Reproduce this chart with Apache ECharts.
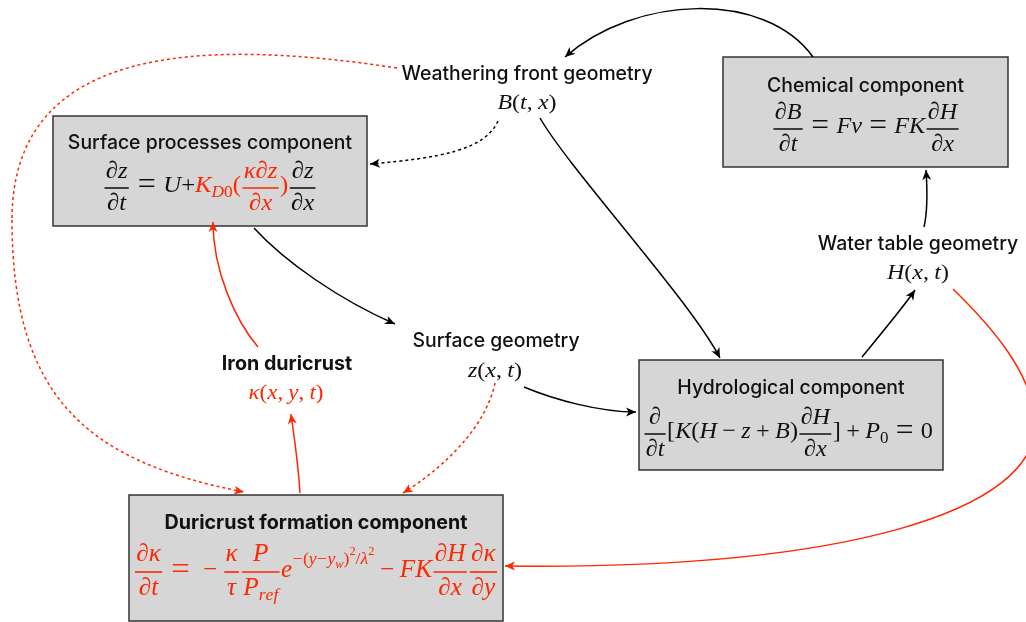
<!DOCTYPE html>
<html>
<head>
<meta charset="utf-8">
<script src="https://cdn.jsdelivr.net/npm/echarts@6/dist/echarts.min.js"></script>
<style>
  html, body { margin: 0; background: #fff; }
  #main { width: 1026px; height: 622px; }
</style>
</head>
<body>
<div id="main"></div>
<script>
var RED = '#ff2600';

// model components (grey boxes)
var boxIds = ['chem', 'surf', 'hydro', 'duri'];
var boxTitles = ['Chemical component', 'Surface processes component', 'Hydrological component', 'Duricrust formation component'];
var boxBold = [false, false, false, true];
var boxEquations = [
  [{ frac: ['∂B', '∂t'] }, ' = Fv = FK', { frac: ['∂H', '∂x'] }],
  [{ frac: ['∂z', '∂t'] }, ' = U', { s: '+' }, { red: ['K', { sub: ['D0'] }, '(', { frac: ['κ∂z', '∂x'] }, ')'] }, { frac: ['∂z', '∂x'] }],
  [{ frac: ['∂', '∂t'] }, '[K(H − z + B)', { frac: ['∂H', '∂x'] }, '] + P', { sub: ['0'] }, ' = 0'],
  [{ red: [{ frac: ['∂κ', '∂t'] }, ' = −', { frac: ['κ', 'τ'] }, { frac: ['P', ['P', { sub: ['ref'] }]] },
           'e', { sup: ['−(y−y', { sub: ['w'] }, ')', { sup: ['2'] }, '/λ', { sup: ['2'] }] },
           ' − FK', { frac: ['∂H', '∂x'] }, { frac: ['∂κ', '∂y'] }] }]
];

// state variables (free labels)
var varIds = ['weather', 'surfgeo', 'iron', 'water'];
var varTitles = ['Weathering front geometry', 'Surface geometry', 'Iron duricrust', 'Water table geometry'];
var varFormulas = ['B(t, x)', 'z(x, t)', 'κ(x, y, t)', 'H(x, t)'];
var varRed = [false, false, true, false];
var varBold = [false, false, true, false];

// arrows between them
var linkSource = ['chem', 'weather', 'weather', 'surf', 'surfgeo', 'hydro', 'water', 'water', 'iron', 'duri', 'surfgeo', 'weather'];
var linkTarget = ['weather', 'surf', 'hydro', 'surfgeo', 'hydro', 'water', 'chem', 'duri', 'surf', 'iron', 'duri', 'duri'];
var linkRed = [false, false, false, false, false, false, false, true, true, true, true, true];
var linkDotted = [false, true, false, false, false, false, false, false, false, false, true, true];

// ---- layout (pixel space of a 1026 x 622 grid) ----
var boxRect = { chem: [723, 57, 285, 110], surf: [53, 116, 314, 110], hydro: [639, 360, 304, 110], duri: [129, 495, 374, 126] };
var boxTitleY = { chem: 86, surf: 143, hydro: 388, duri: 523 };
// centre x, fraction-bar y, font size, width on the page
var eqAnchor = { chem: [866, 129, 24, 188], surf: [210, 188, 24, 214], hydro: [788, 434, 24, 290], duri: [316, 572, 25, 365] };
// title x, title y, formula x, formula y, formula width
var varAnchor = { weather: [527, 74, 527, 103, 59], surfgeo: [496, 341, 495, 371, 54], iron: [287, 364, 286, 393, 75], water: [918, 244, 918, 273, 62] };
var linkPath = [
  [[813, 57], [765, -10], [635, -5], [565, 57]],
  [[498, 121], [485, 150], [440, 158], [370, 164]],
  [[540, 118], [570, 170], [690, 300], [720, 358]],
  [[254, 228], [285, 262], [340, 300], [395, 324]],
  [[524, 387], [555, 400], [600, 412], [636, 412]],
  [[862, 357], [880, 335], [905, 305], [915, 290]],
  [[924, 227], [928, 210], [927, 185], [926, 170]],
  [[953, 289], [990, 325], [1035, 375], [1035, 425], [1035, 510], [850, 570], [505, 566]],
  [[258, 347], [235, 320], [213, 270], [213, 222]],
  [[300, 493], [298, 460], [294, 436], [291, 414]],
  [[495, 383], [485, 430], [440, 470], [403, 493]],
  [[397, 68], [200, 38], [12, 45], [12, 220], [12, 400], [90, 462], [244, 492]]
];

var LABEL_FAMILY = 'Inter, "Liberation Sans", sans-serif';
var MATH_FAMILY = '"Liberation Serif", "DejaVu Serif", serif';

// ---- small math typesetter ----
var measureCtx = document.createElement('canvas').getContext('2d');
function mathFont(size, italic) {
  return (italic ? 'italic ' : '') + size.toFixed(2) + 'px ' + MATH_FAMILY;
}
function textWidth(s, font) {
  measureCtx.font = font;
  return measureCtx.measureText(s).width;
}
var OPS = { '=': 0.3, '+': 0.22, '−': 0.22 };
function atoms(str, script) {
  var out = [];
  for (var ch of str) {
    if (ch === ' ') continue;
    if (OPS[ch] != null) out.push({ s: ch, it: false, pad: script ? 0.02 : OPS[ch], scale: ch === '=' ? 1.3 : 1 });
    else if (/[A-Za-z\u03b1-\u03c9\u2202]/.test(ch)) out.push({ s: ch, it: true });
    else if (ch === ',') out.push({ s: ch, it: false, padR: 0.22 });
    else out.push({ s: ch, it: false });
  }
  return out;
}
function place(items, size, color, y, x, out, script) {
  if (!Array.isArray(items)) items = [items];
  items.forEach(function (item) {
    if (typeof item === 'string') {
      x = place(atoms(item, script), size, color, y, x, out, script);
    } else if (item.s != null) {
      var f = mathFont(size * (item.scale || 1), item.it);
      x += (item.pad || 0) * size;
      out.push({ s: item.s, x: x, y: y, font: f, color: color });
      x += textWidth(item.s, f) + (item.padR != null ? item.padR : (item.pad || 0)) * size;
    } else if (item.red) {
      x = place(item.red, size, RED, y, x, out, script);
    } else if (item.sub) {
      x = place(item.sub, size * 0.7, color, y + 0.28 * size, x, out, true);
    } else if (item.sup) {
      x = place(item.sup, size * 0.7, color, y - 0.42 * size, x, out, true);
    } else if (item.frac) {
      var num = [], den = [];
      var wn = place(item.frac[0], size, color, 0, 0, num, script);
      var wd = place(item.frac[1], size, color, 0, 0, den, script);
      var w = Math.max(wn, wd) + 0.1 * size;
      var bar = y + 0.08 * size;
      x += 0.06 * size;
      num.forEach(function (p) { p.x += x + (w - wn) / 2; p.y += bar - 0.7 * size; out.push(p); });
      den.forEach(function (p) { p.x += x + (w - wd) / 2; p.y += bar + 0.64 * size; out.push(p); });
      out.push({ bar: true, x1: x, x2: x + w, y: bar, color: color, lw: Math.max(1.3, size * 0.065) });
      x += w + 0.06 * size;
    }
  });
  return x;
}
// zrender elements for a formula centred on (cx, axisY), stretched to the given width
function formulaEls(items, cx, axisY, size, color, width) {
  var pieces = [];
  var w = place(items, size, color, -0.08 * size, 0, pieces, false);
  var k = width ? width / w : 1;
  var x0 = cx - w * k / 2;
  return pieces.map(function (p) {
    if (p.bar) {
      return { type: 'line', shape: { x1: x0 + p.x1 * k, y1: axisY + p.y, x2: x0 + p.x2 * k, y2: axisY + p.y },
               style: { stroke: p.color, lineWidth: p.lw } };
    }
    return { type: 'text', x: x0 + p.x * k, y: axisY + p.y, scaleX: k,
             style: { text: p.s, font: p.font, fill: p.color, align: 'left', verticalAlign: 'middle' } };
  });
}
function labelEl(text, x, y, bold) {
  return { type: 'text', x: x, y: y,
           style: { text: text, font: (bold ? '700 19.7px ' : '500 19.4px ') + LABEL_FAMILY, fill: '#111',
                    align: 'center', verticalAlign: 'middle' } };
}

// ---- diagram elements, one custom-series item each ----
var items = [];
boxIds.forEach(function (id, i) { items.push({ kind: 'box', i: i }); });
varIds.forEach(function (id, i) { items.push({ kind: 'var', i: i }); });
linkSource.forEach(function (id, i) { items.push({ kind: 'link', i: i }); });

function renderItem(params, api) {
  var it = items[params.dataIndex];
  var P = function (p) { return api.coord(p); };
  var children = [];
  if (it.kind === 'box') {
    var id = boxIds[it.i], r = boxRect[id];
    var a = P([r[0], r[1]]), b = P([r[0] + r[2], r[1] + r[3]]);
    children.push({ type: 'rect', shape: { x: a[0], y: a[1], width: b[0] - a[0], height: b[1] - a[1] },
                    style: { fill: '#d6d6d6', stroke: '#333', lineWidth: 1.5 } });
    var t = P([(r[0] + r[0] + r[2]) / 2, boxTitleY[id]]);
    children.push(labelEl(boxTitles[it.i], t[0], t[1], boxBold[it.i]));
    var e = eqAnchor[id], ep = P([e[0], e[1]]);
    children = children.concat(formulaEls(boxEquations[it.i], ep[0], ep[1], e[2], '#111', e[3]));
  } else if (it.kind === 'var') {
    var v = varAnchor[varIds[it.i]];
    var tp = P([v[0], v[1]]), fp = P([v[2], v[3]]);
    children.push(labelEl(varTitles[it.i], tp[0], tp[1], varBold[it.i]));
    children = children.concat(formulaEls([varFormulas[it.i]], fp[0], fp[1] + 0.08 * 21, 21, varRed[it.i] ? RED : '#111', v[4]));
  } else {
    var pts = linkPath[it.i].map(P);
    var color = linkRed[it.i] ? RED : '#000';
    for (var k = 0; k + 3 < pts.length; k += 3) {
      children.push({ type: 'bezierCurve',
        shape: { x1: pts[k][0], y1: pts[k][1], cpx1: pts[k + 1][0], cpy1: pts[k + 1][1],
                 cpx2: pts[k + 2][0], cpy2: pts[k + 2][1], x2: pts[k + 3][0], y2: pts[k + 3][1] },
        style: { stroke: color, fill: 'none', lineWidth: 1.5, lineDash: linkDotted[it.i] ? [3, 3] : null } });
    }
    var tip = pts[pts.length - 1], from = pts[pts.length - 2];
    var dx = tip[0] - from[0], dy = tip[1] - from[1], len = Math.sqrt(dx * dx + dy * dy);
    var ux = dx / len, uy = dy / len, nx = -uy, ny = ux, L = 10, W = 4.5;
    var bx = tip[0] - ux * L, by = tip[1] - uy * L;
    children.push({ type: 'polygon',
      shape: { points: [tip, [bx + nx * W, by + ny * W], [tip[0] - ux * L * 0.72, tip[1] - uy * L * 0.72], [bx - nx * W, by - ny * W]] },
      style: { fill: color, stroke: null } });
  }
  return { type: 'group', children: children };
}

var chart = echarts.init(document.getElementById('main'), null, { renderer: 'canvas' });
chart.setOption({
  animation: false,
  backgroundColor: '#fff',
  grid: { left: 0, right: 0, top: 0, bottom: 0 },
  xAxis: { type: 'value', min: 0, max: 1026, show: false },
  yAxis: { type: 'value', min: 0, max: 622, inverse: true, show: false },
  series: [{
    type: 'custom',
    coordinateSystem: 'cartesian2d',
    silent: true,
    clip: false,
    renderItem: renderItem,
    data: items.map(function (d, i) { return [i, 0]; })
  }]
});
</script>
</body>
</html>
